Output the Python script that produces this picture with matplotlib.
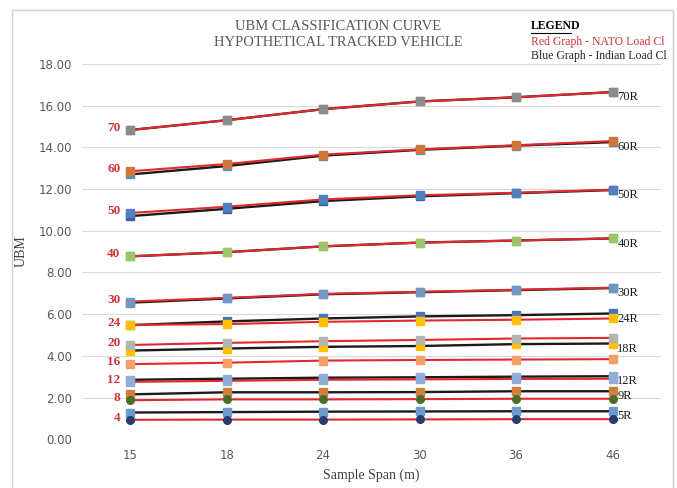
import numpy as np
import matplotlib.pyplot as plt
from matplotlib.patches import Rectangle

plt.rcParams.update({'font.size': 8.5})

spans = ['15', '18', '24', '30', '36', '46']

# red graph - NATO load class (left labels)
nato_labels = ['70', '60', '50', '40', '30', '24', '20', '16', '12', '8', '4']
nato_values = [
    [14.83, 15.30, 15.83, 16.20, 16.40, 16.65],
    [12.85, 13.20, 13.65, 13.90, 14.10, 14.30],
    [10.85, 11.15, 11.50, 11.70, 11.82, 11.97],
    [8.77, 8.97, 9.25, 9.43, 9.53, 9.63],
    [6.60, 6.78, 6.97, 7.07, 7.17, 7.27],
    [5.48, 5.52, 5.63, 5.69, 5.73, 5.79],
    [4.52, 4.62, 4.70, 4.76, 4.83, 4.86],
    [3.60, 3.67, 3.77, 3.80, 3.82, 3.84],
    [2.75, 2.80, 2.85, 2.87, 2.89, 2.90],
    [1.87, 1.91, 1.91, 1.92, 1.94, 1.94],
    [0.93, 0.94, 0.94, 0.95, 0.96, 0.96],
]
nato_markers = ['#8c8c8c', '#d0763b', '#4f81c0', '#9bc56b', '#7396c4', '#ffc000',
                '#b4b4b4', '#f2a065', '#8eb0d8', '#4a6e2a', '#263c6e']

# blue graph - Indian load class (right labels)
indian_labels = ['70R', '60R', '50R', '40R', '30R', '24R', '18R', '12R', '9R', '5R']
indian_values = [
    [14.83, 15.30, 15.83, 16.20, 16.40, 16.65],
    [12.70, 13.10, 13.60, 13.88, 14.08, 14.25],
    [10.70, 11.05, 11.42, 11.65, 11.80, 11.95],
    [8.77, 8.97, 9.25, 9.43, 9.53, 9.63],
    [6.55, 6.75, 6.95, 7.05, 7.15, 7.25],
    [5.47, 5.65, 5.79, 5.89, 5.95, 6.03],
    [4.25, 4.35, 4.43, 4.47, 4.56, 4.59],
    [2.85, 2.90, 2.95, 2.97, 3.00, 3.02],
    [2.15, 2.25, 2.25, 2.26, 2.30, 2.30],
    [1.28, 1.30, 1.32, 1.33, 1.34, 1.34],
]
indian_markers = ['#8c8c8c', '#5f8fa8', '#3d5f9a', '#9bc56b', '#5f9a8f', '#4f72b0',
                  '#ffc000', '#8eb0d8', '#d0803a', '#6a9ad0']

fig = plt.figure(figsize=(6.77, 4.88), dpi=100)
ax = fig.add_axes([0.121, 0.100, 0.855, 0.769])
x = np.arange(len(spans))

# black lines first, red on top
for vals, mc in zip(indian_values, indian_markers):
    ax.plot(x, vals, color='#1a1a1a', lw=1.7, marker='s', ms=5.5, mfc=mc, mec=mc, zorder=3)
for i, (vals, mc) in enumerate(zip(nato_values, nato_markers)):
    mk = 's' if i < 9 else 'o'
    ax.plot(x, vals, color='#e0282e', lw=1.5, marker=mk, ms=5.5, mfc=mc, mec=mc, zorder=4)

for lab, vals in zip(nato_labels, nato_values):
    ax.text(-0.1, vals[0] + 0.1, lab, color='#d0343a', fontsize=9.5, fontweight='bold',
            family='Liberation Serif', ha='right', va='center')
for lab, vals in zip(indian_labels, indian_values):
    ax.text(5.05, vals[-1] - 0.25, lab, color='#1a1a1a', fontsize=9,
            family='Liberation Serif', ha='left', va='center')

ax.set_xlim(-0.5, 5.5)
ax.set_ylim(0, 18)
ax.set_xticks(x)
ax.set_xticklabels(spans)
ax.set_yticks(np.arange(0, 19, 2))
ax.set_yticklabels([f'{v:.2f}' for v in np.arange(0, 19, 2)])
ax.tick_params(length=0, colors='#595959', labelsize=8.5, pad=7)
ax.grid(axis='y', color='#d9d9d9', lw=0.8)
ax.set_axisbelow(True)
for s in ax.spines.values():
    s.set_visible(False)

ax.set_xlabel('Sample Span (m)', family='Liberation Serif', fontsize=10, color='#404040', labelpad=5)
ax.set_ylabel('UBM', family='Liberation Serif', fontsize=10, color='#404040', labelpad=8)

fig.text(0.50, 0.958, 'UBM CLASSIFICATION CURVE\nHYPOTHETICAL TRACKED VEHICLE', ha='center', va='top',
         family='Liberation Serif', fontsize=10.5, color='#595959', linespacing=1.25)
fig.text(0.784, 0.958, 'LEGEND', family='Liberation Serif', fontsize=8.5, fontweight='bold',
         color='black', va='top')
fig.add_artist(plt.Line2D([0.784, 0.843], [0.932, 0.932], color='black', lw=0.8))
fig.text(0.784, 0.927, 'Red Graph - NATO Load Cl', family='Liberation Serif', fontsize=8.5,
         color='#d0343a', va='top')
fig.text(0.784, 0.897, 'Blue Graph - Indian Load Cl', family='Liberation Serif', fontsize=8.5,
         color='#262626', va='top')

fig.add_artist(Rectangle((0.018, -0.01), 0.976, 0.99, transform=fig.transFigure,
                         fill=False, ec='#d0d0d0', lw=1))

fig.savefig('out.png', dpi=100)
